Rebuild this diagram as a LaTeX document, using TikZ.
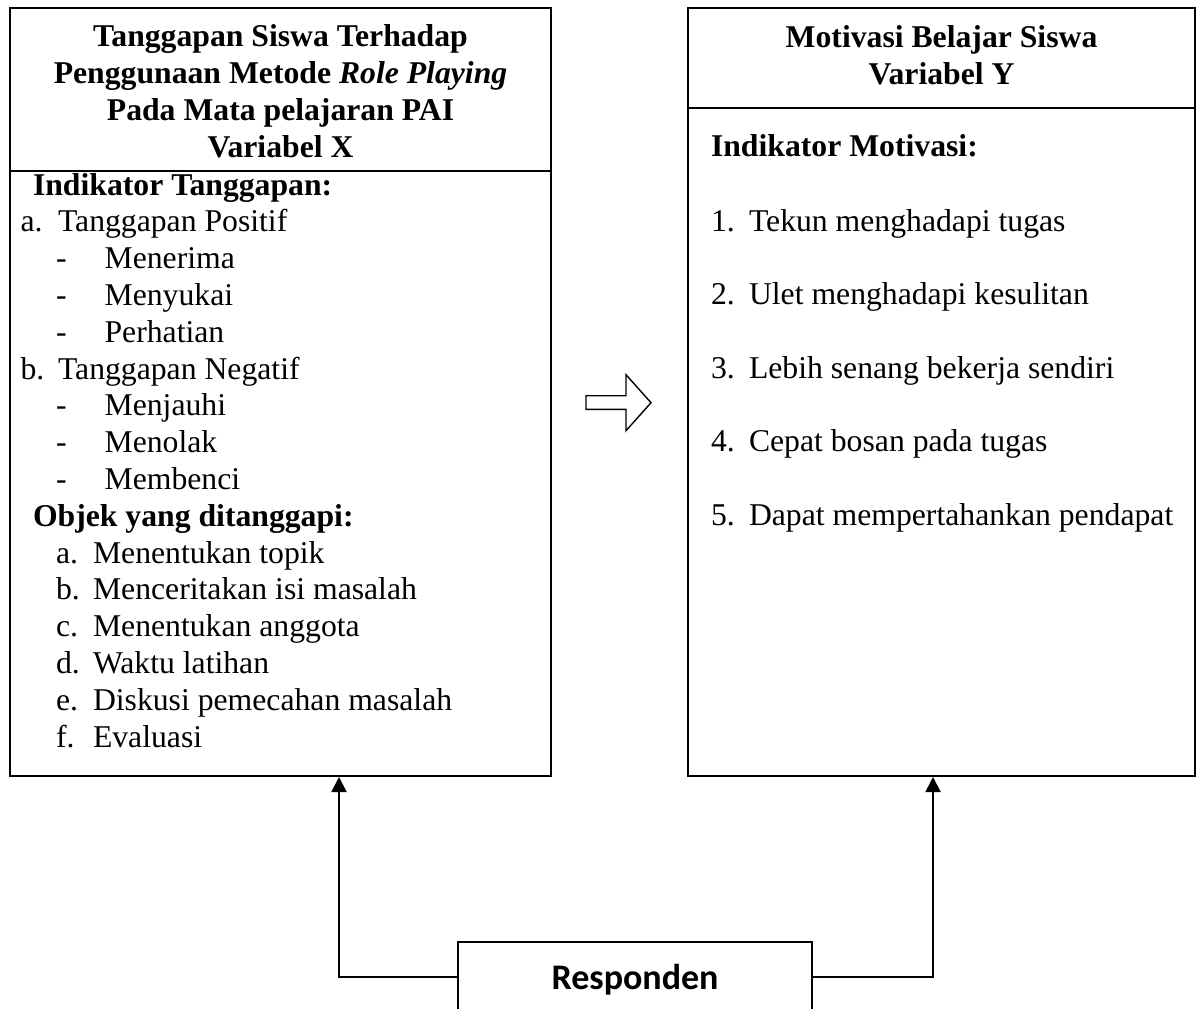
\documentclass[tikz,border=0pt]{standalone}
\usepackage{fontspec}
\setmainfont{Liberation Serif}
\newfontfamily\calibfont{Carlito}
\usetikzlibrary{arrows.meta}
\newcommand{\bodysize}{\fontsize{15.85}{19}\selectfont}
\begin{document}
\begin{tikzpicture}[x=0.5pt,y=-0.5pt, line width=1pt,
  tl/.style={anchor=base west, inner sep=0pt, font=\bodysize},
  tb/.style={anchor=base west, inner sep=0pt, font=\bodysize\bfseries},
  hd/.style={anchor=base, inner sep=0pt, font=\bodysize\bfseries},
  frame/.style={draw, line width=1pt, minimum height=384pt, inner sep=0pt},
  conn/.style={line width=1pt, -{Triangle[width=7.5pt,length=7.5pt]}}]
\useasboundingbox (0,0) rectangle (1197,1008);
\fill[white] (0,0) rectangle (1197,1008);
% boxes
\node[frame, minimum width=270.5pt] (boxX) at (280.5,392) {};
\node[frame, minimum width=253.5pt] (boxY) at (941.5,392) {};
\coordinate (dX) at (0,170.7);
\coordinate (dY) at (0,107.7);
\draw (boxX.west |- dX) -- (boxX.east |- dX);
\draw (boxY.west |- dY) -- (boxY.east |- dY);
% left header
\node[hd] (hx1) at (280.5,46.5) {Tanggapan Siswa Terhadap};
\node[hd] (hx2) at (280.5,83.5) {Penggunaan Metode \textit{Role Playing}};
\node[hd] (hx3) at (280.5,120.5) {Pada Mata pelajaran PAI};
\node[hd] (hx4) at (280.5,157.5) {Variabel X};
% left body
\node[tb] (it) at (32,195) {Indikator Tanggapan:};
\node[tl] (la) at (19.6,231.8) {a.};
\node[tl] (lat) at (57,231.8) {Tanggapan Positif};
\node[tl] (d1) at (55,268.6) {-};
\node[tl] (d1t) at (103.6,268.6) {Menerima};
\node[tl] (d2) at (55,305.4) {-};
\node[tl] (d2t) at (103.6,305.4) {Menyukai};
\node[tl] (d3) at (55,342.2) {-};
\node[tl] (d3t) at (103.6,342.2) {Perhatian};
\node[tl] (lb) at (19.6,379) {b.};
\node[tl] (lbt) at (57,379) {Tanggapan Negatif};
\node[tl] (d4) at (55,415.8) {-};
\node[tl] (d4t) at (103.6,415.8) {Menjauhi};
\node[tl] (d5) at (55,452.6) {-};
\node[tl] (d5t) at (103.6,452.6) {Menolak};
\node[tl] (d6) at (55,489.4) {-};
\node[tl] (d6t) at (103.6,489.4) {Membenci};
\node[tb] (ob) at (32,526.2) {Objek yang ditanggapi:};
\node[tl] (oa) at (55,563) {a.};
\node[tl] (oat) at (92,563) {Menentukan topik};
\node[tl] (obb) at (55,599.8) {b.};
\node[tl] (obt) at (92,599.8) {Menceritakan isi masalah};
\node[tl] (oc) at (55,636.6) {c.};
\node[tl] (oct) at (92,636.6) {Menentukan anggota};
\node[tl] (od) at (55,673.4) {d.};
\node[tl] (odt) at (92,673.4) {Waktu latihan};
\node[tl] (oe) at (55,710.2) {e.};
\node[tl] (oet) at (92,710.2) {Diskusi pemecahan masalah};
\node[tl] (of) at (55,747) {f.};
\node[tl] (oft) at (92,747) {Evaluasi};
% right header
\node[hd] (hy1) at (941.5,47.5) {Motivasi Belajar Siswa};
\node[hd] (hy2) at (941.5,84.5) {Variabel Y};
% right body
\node[tb] (im) at (710,156.7) {Indikator Motivasi:};
\node[tl] (n1) at (710,231) {1.};
\node[tl] (n1t) at (748,231) {Tekun menghadapi tugas};
\node[tl] (n2) at (710,304.5) {2.};
\node[tl] (n2t) at (748,304.5) {Ulet menghadapi kesulitan};
\node[tl] (n3) at (710,378) {3.};
\node[tl] (n3t) at (748,378) {Lebih senang bekerja sendiri};
\node[tl] (n4) at (710,451.5) {4.};
\node[tl] (n4t) at (748,451.5) {Cepat bosan pada tugas};
\node[tl] (n5) at (710,525) {5.};
\node[tl] (n5t) at (748,525) {Dapat mempertahankan pendapat};
% block arrow
\draw[line width=0.7pt] (586,395.7) -- (626,395.7) -- (626,374.7) -- (651,402.7) -- (626,430.7) -- (626,409.3) -- (586,409.3) -- cycle;
% responden
\node[draw, line width=1pt, minimum width=177pt, minimum height=34.5pt, inner sep=0pt,
  text height=12.5pt, text depth=0pt,
  font=\calibfont\bfseries\fontsize{18}{22}\selectfont] (resp) at (635,976.5) {Responden};
\coordinate (aX) at (339,0);
\coordinate (aY) at (933,0);
\draw[conn] (resp.west) -| (boxX.south -| aX);
\draw[conn] (resp.east) -| (boxY.south -| aY);
\end{tikzpicture}
\end{document}
